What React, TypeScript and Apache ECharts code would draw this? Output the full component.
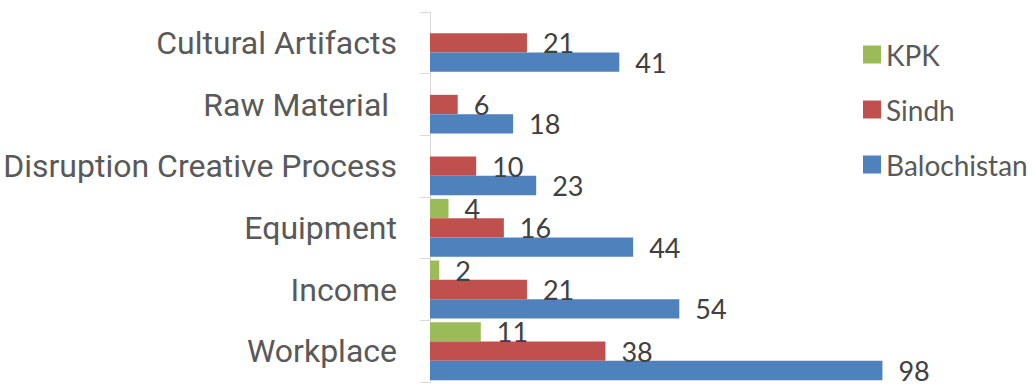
import React, { useEffect, useRef } from "react";
import * as echarts from "echarts";

// Categories listed top to bottom
const categories = [
  "Cultural Artifacts",
  "Raw Material ",
  "Disruption Creative Process",
  "Equipment",
  "Income",
  "Workplace",
];

const kpk: (number | null)[] = [null, null, null, 4, 2, 11];
const sindh = [21, 6, 10, 16, 21, 38];
const balochistan = [41, 18, 23, 44, 54, 98];

const seriesNames = ["KPK", "Sindh", "Balochistan"];
const seriesColors = ["#9BBB59", "#C0504D", "#4F81BD"];

const valueAxisMax = 120;

export default function App() {
  const ref = useRef<HTMLDivElement>(null);

  useEffect(() => {
    if (!ref.current) return;
    const chart = echarts.init(ref.current, undefined, { renderer: "svg" });

    const valueLabel = {
      show: true,
      position: "right" as const,
      distance: 16,
      color: "#404040",
      fontFamily: "Lato",
      fontSize: 27,
    };

    const values = [kpk, sindh, balochistan];

    chart.setOption({
      animation: false,
      backgroundColor: "#ffffff",
      grid: {
        left: 430,
        top: 12,
        height: 370,
        right: 51,
        outerBoundsMode: "none",
      },
      legend: {
        orient: "vertical",
        left: 858,
        top: 35,
        itemWidth: 18,
        itemHeight: 18,
        itemGap: 26,
        icon: "rect",
        textStyle: {
          color: "#595959",
          fontFamily: "Lato",
          fontSize: 28,
          lineHeight: 29,
        },
        data: seriesNames,
      },
      xAxis: {
        type: "value",
        min: 0,
        max: valueAxisMax,
        show: false,
      },
      yAxis: {
        type: "category",
        inverse: true,
        data: categories,
        axisLine: { show: true, lineStyle: { color: "#d9d9d9", width: 1 } },
        axisTick: { show: true, length: 10, lineStyle: { color: "#d9d9d9" } },
        axisLabel: {
          margin: 33,
          color: "#595959",
          fontFamily: "Roboto",
          fontSize: 32,
        },
        splitLine: { show: false },
      },
      series: seriesNames.map((name, i) => ({
        name,
        type: "bar",
        data: values[i],
        barGap: "0%",
        barCategoryGap: "6%",
        itemStyle: { color: seriesColors[i] },
        label: valueLabel,
      })),
    });

    return () => chart.dispose();
  }, []);

  return (
    <div
      ref={ref}
      style={{ position: "absolute", left: 0, top: 0, width: 1035, height: 388 }}
    />
  );
}
